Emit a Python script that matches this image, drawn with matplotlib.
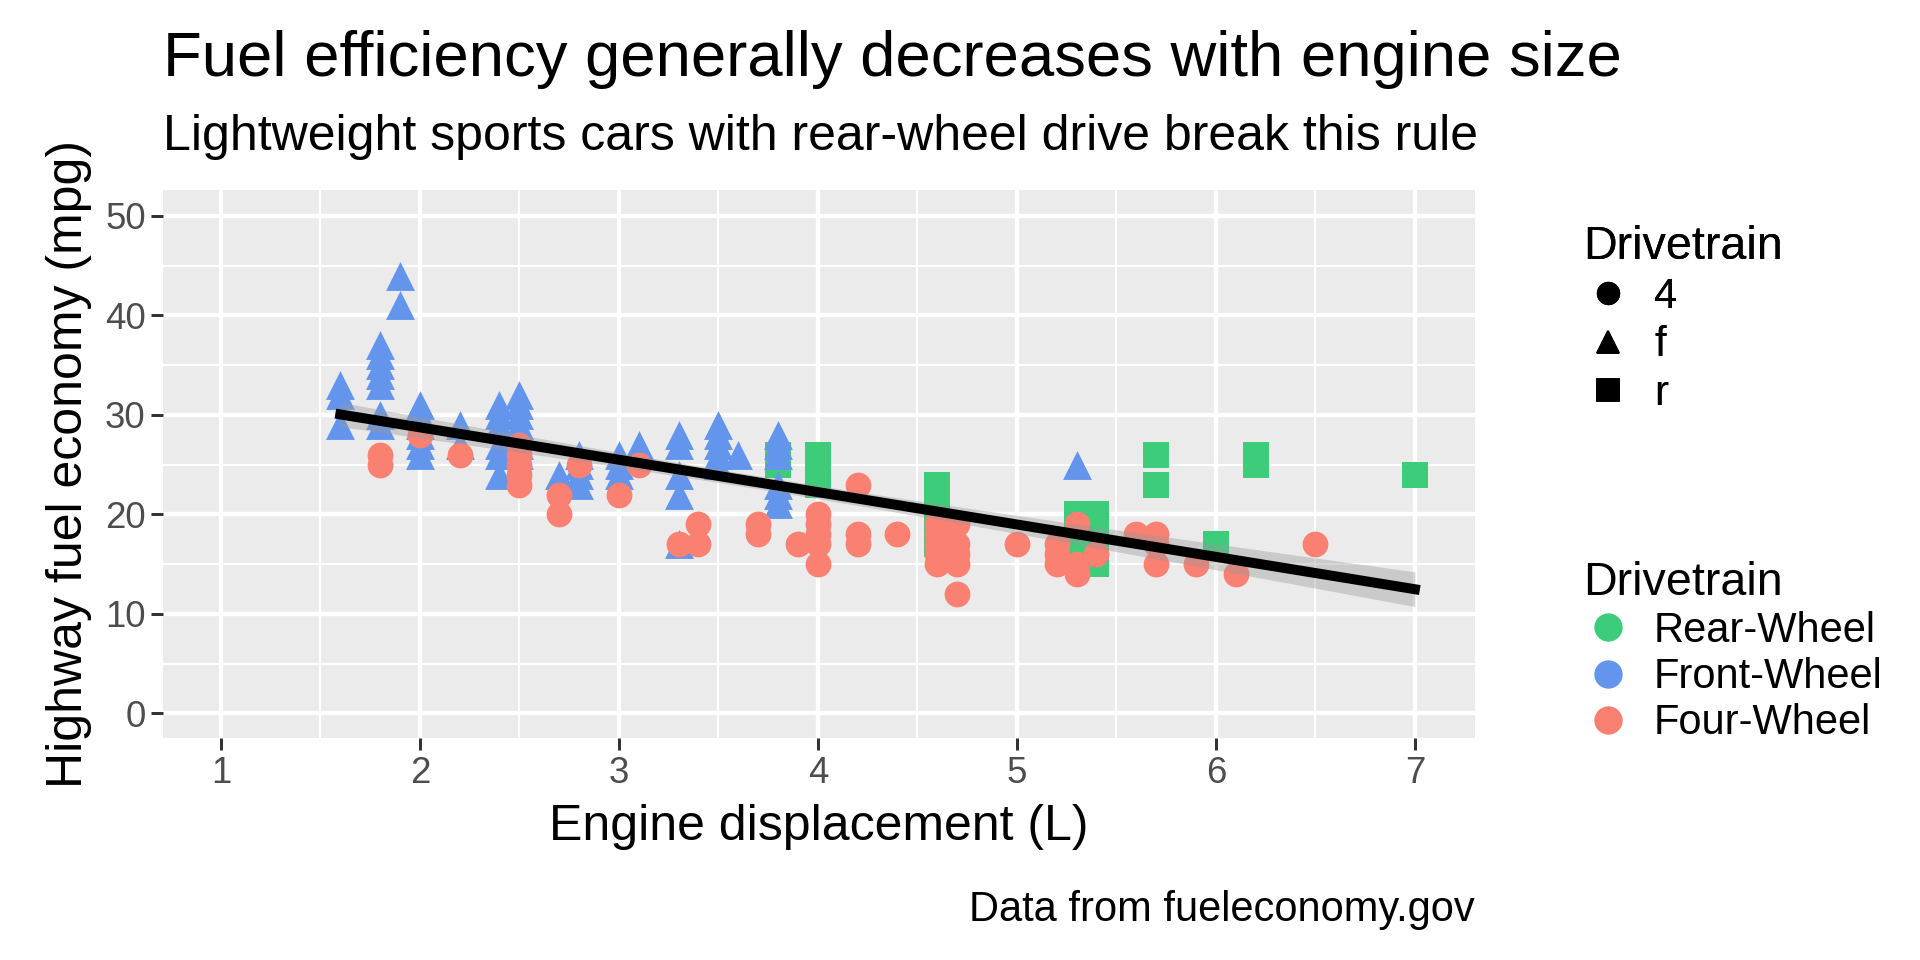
import numpy as np
import matplotlib.pyplot as plt
from matplotlib.lines import Line2D

plt.rcParams['font.family'] = ['Liberation Sans', 'DejaVu Sans']

# displacement / highway mpg, by drivetrain
four_displ = [1.8, 1.8, 2.0, 2.2, 2.5, 2.5, 2.5, 2.5, 2.5, 2.7, 2.7, 2.8, 3.0, 3.1, 3.3, 3.4, 3.4,
              3.7, 3.7, 3.9, 4.0, 4.0, 4.0, 4.0, 4.0, 4.2, 4.2, 4.2, 4.4, 4.6, 4.6, 4.6, 4.6, 4.6,
              4.7, 4.7, 4.7, 4.7, 4.7, 5.0, 5.2, 5.2, 5.2, 5.3, 5.3, 5.3, 5.4, 5.6, 5.7, 5.7, 5.7,
              5.9, 6.1, 6.5]
four_hwy = [25, 26, 28, 26, 23, 24, 25, 26, 27, 20, 22, 25, 22, 25, 17, 17, 19,
            18, 19, 17, 15, 17, 18, 19, 20, 17, 18, 23, 18, 15, 16, 17, 18, 19,
            12, 15, 16, 17, 19, 17, 15, 16, 17, 14, 15, 19, 16, 18, 15, 17, 18,
            15, 14, 17]
front_displ = [1.6, 1.6, 1.6, 1.8, 1.8, 1.8, 1.8, 1.8, 1.8, 1.8, 1.9, 1.9, 2.0, 2.0, 2.0, 2.0, 2.0,
               2.0, 2.2, 2.2, 2.4, 2.4, 2.4, 2.4, 2.4, 2.4, 2.5, 2.5, 2.5, 2.5, 2.5, 2.5, 2.5,
               2.7, 2.8, 2.8, 2.8, 2.8, 3.0, 3.0, 3.0, 3.1, 3.1, 3.3, 3.3, 3.3, 3.3, 3.3, 3.5,
               3.5, 3.5, 3.5, 3.5, 3.6, 3.8, 3.8, 3.8, 3.8, 3.8, 3.8, 5.3]
front_hwy = [29, 32, 33, 29, 30, 33, 34, 35, 36, 37, 41, 44, 26, 27, 28, 29, 30,
             31, 27, 29, 24, 26, 27, 29, 30, 31, 26, 27, 28, 29, 30, 31, 32,
             24, 23, 24, 25, 26, 24, 25, 26, 26, 27, 17, 22, 24, 27, 28, 25,
             26, 27, 28, 29, 26, 21, 22, 23, 26, 27, 28, 25]
rear_displ = [3.8, 3.8, 4.0, 4.0, 4.0, 4.0, 4.6, 4.6, 4.6, 4.6, 4.6, 4.6, 5.3, 5.3, 5.3, 5.3, 5.3,
              5.4, 5.4, 5.4, 5.4, 5.4, 5.4, 5.7, 5.7, 6.0, 6.2, 6.2, 7.0]
rear_hwy = [25, 26, 23, 24, 25, 26, 17, 18, 20, 21, 22, 23, 16, 17, 18, 19, 20,
            15, 16, 17, 18, 19, 20, 23, 26, 17, 25, 26, 24]

colors = {'Rear-Wheel': '#3DCC7A', 'Front-Wheel': '#6495ED', 'Four-Wheel': '#FA8072'}
BG = '#EBEBEB'

fig = plt.figure(figsize=(16, 8), dpi=120)
ax = fig.add_axes([0.085, 0.231, 0.683, 0.571])
ax.set_facecolor(BG)
for s in ax.spines.values():
    s.set_visible(False)

ax.set_xlim(0.71, 7.3)
ax.set_ylim(-2.5, 52.6)
ax.set_xticks(range(1, 8))
ax.set_yticks(range(0, 51, 10))
ax.set_xticks(np.arange(1.5, 7.5, 1), minor=True)
ax.set_yticks(np.arange(5, 55, 10), minor=True)
ax.grid(which='major', color='white', lw=2.6)
ax.grid(which='minor', color='white', lw=1.3)
ax.set_axisbelow(True)
ax.tick_params(which='major', colors='#333333', labelcolor='#4D4D4D', labelsize=22, length=7, width=1.8)
ax.tick_params(which='minor', length=0)

# linear fit with confidence band
x_all = np.array(four_displ + front_displ + rear_displ)
y_all = np.array(four_hwy + front_hwy + rear_hwy)
b, a = np.polyfit(x_all, y_all, 1)
xs = np.linspace(x_all.min(), x_all.max(), 100)
ys = a + b * xs
n = len(x_all)
resid = y_all - (a + b * x_all)
s_err = np.sqrt(np.sum(resid ** 2) / (n - 2))
se = s_err * np.sqrt(1 / n + (xs - x_all.mean()) ** 2 / np.sum((x_all - x_all.mean()) ** 2))

ax.scatter(rear_displ, rear_hwy, marker='s', s=260, color=colors['Rear-Wheel'], lw=0, zorder=3)
ax.scatter(front_displ, front_hwy, marker='^', s=300, color=colors['Front-Wheel'], lw=0, zorder=3)
ax.scatter(four_displ, four_hwy, marker='o', s=240, color=colors['Four-Wheel'], lw=0, zorder=3)
ax.fill_between(xs, ys - 1.97 * se, ys + 1.97 * se, color='#999999', alpha=0.4, lw=0, zorder=4)
ax.plot(xs, ys, color='black', lw=6, zorder=5)

ax.set_xlabel('Engine displacement (L)', fontsize=30, labelpad=8)
ax.set_ylabel('Highway fuel economy (mpg)', fontsize=30, labelpad=8)
fig.text(0.085, 0.921, 'Fuel efficiency generally decreases with engine size', fontsize=38, va='baseline')
fig.text(0.085, 0.844, 'Lightweight sports cars with rear-wheel drive break this rule', fontsize=30, va='baseline')
fig.text(0.768, 0.041, 'Data from fueleconomy.gov', fontsize=25, ha='right', va='baseline')

shape_handles = [Line2D([], [], marker=m, ls='', color='black', markersize=13)
                 for m in ['o', '^', 's']]
leg1 = fig.legend(shape_handles, ['4', 'f', 'r'], title='Drivetrain', loc='upper left',
                  bbox_to_anchor=(0.805, 0.805), frameon=False, fontsize=25, title_fontsize=28,
                  handletextpad=0.5, handlelength=1.2, labelspacing=0.2, alignment='left')
color_handles = [Line2D([], [], marker='o', ls='', color=c, markersize=16) for c in colors.values()]
fig.legend(color_handles, list(colors.keys()), title='Drivetrain', loc='upper left',
           bbox_to_anchor=(0.805, 0.455), frameon=False, fontsize=25, title_fontsize=28,
           handletextpad=0.5, handlelength=1.2, labelspacing=0.15, alignment='left')
fig.add_artist(leg1)

fig.savefig('out.png', dpi=120, facecolor='white')
